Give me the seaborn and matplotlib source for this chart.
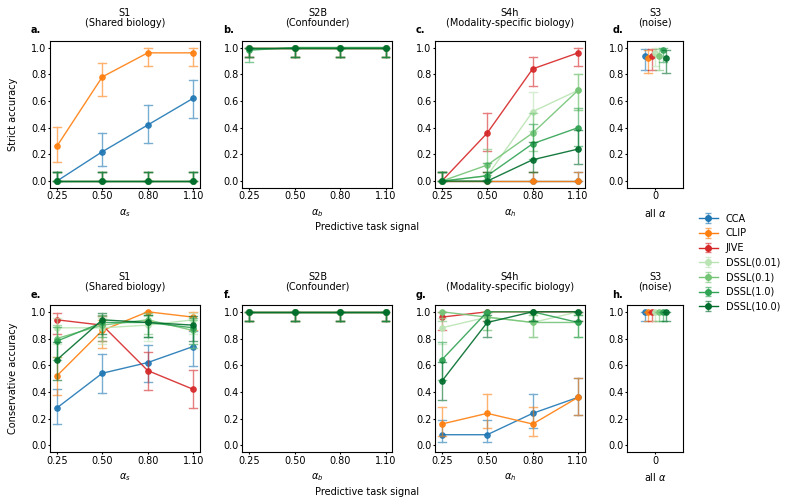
import numpy as np
import pandas as pd
import seaborn as sns
import matplotlib.pyplot as plt
from matplotlib.colors import to_rgb
from math import comb

N_RUNS = 50
METHODS = ['CCA', 'CLIP', 'JIVE', 'DSSL(0.01)', 'DSSL(0.1)', 'DSSL(1.0)', 'DSSL(10.0)']
COLORS = ['#1f77b4', '#ff7f0e', '#d62728', '#bae4b3', '#74c476', '#31a354', '#006d2c']
ALPHAS = ['0.25', '0.50', '0.80', '1.10']
NOISE_X = ['0']

# accuracy per method (rows follow METHODS), one column per alpha
s1_strict = [
    [0.00, 0.22, 0.42, 0.62],
    [0.26, 0.78, 0.96, 0.96],
    [0.00, 0.00, 0.00, 0.00],
    [0.00, 0.00, 0.00, 0.00],
    [0.00, 0.00, 0.00, 0.00],
    [0.00, 0.00, 0.00, 0.00],
    [0.00, 0.00, 0.00, 0.00],
]
s2b_strict = [
    [1.00, 1.00, 1.00, 1.00],
    [1.00, 1.00, 1.00, 1.00],
    [1.00, 1.00, 1.00, 1.00],
    [1.00, 1.00, 1.00, 1.00],
    [1.00, 1.00, 1.00, 1.00],
    [0.98, 1.00, 1.00, 1.00],
    [1.00, 1.00, 1.00, 1.00],
]
s4h_strict = [
    [0.00, 0.00, 0.00, 0.00],
    [0.00, 0.00, 0.00, 0.00],
    [0.00, 0.36, 0.84, 0.96],
    [0.00, 0.04, 0.52, 0.68],
    [0.00, 0.12, 0.36, 0.68],
    [0.00, 0.04, 0.28, 0.40],
    [0.00, 0.00, 0.16, 0.24],
]
s3_strict = [[0.94], [0.92], [0.94], [0.96], [0.94], [0.98], [0.92]]

s1_cons = [
    [0.28, 0.54, 0.62, 0.74],
    [0.52, 0.86, 1.00, 0.96],
    [0.94, 0.90, 0.56, 0.42],
    [0.88, 0.88, 0.90, 0.94],
    [0.80, 0.90, 0.94, 0.86],
    [0.78, 0.92, 0.92, 0.88],
    [0.64, 0.94, 0.92, 0.90],
]
s2b_cons = [[1.00, 1.00, 1.00, 1.00] for _ in METHODS]
s4h_cons = [
    [0.08, 0.08, 0.24, 0.36],
    [0.16, 0.24, 0.16, 0.36],
    [0.96, 1.00, 1.00, 1.00],
    [0.88, 0.96, 0.92, 1.00],
    [1.00, 0.96, 0.92, 0.92],
    [0.64, 1.00, 1.00, 0.92],
    [0.48, 0.92, 1.00, 1.00],
]
s3_cons = [[1.00] for _ in METHODS]


def binom_cdf(k, n, p):
    return sum(comb(n, i) * p**i * (1 - p)**(n - i) for i in range(k + 1))


def bisect(f, target):
    # f increasing on [0, 1]
    lo, hi = 0.0, 1.0
    for _ in range(50):
        mid = (lo + hi) / 2
        if f(mid) < target:
            lo = mid
        else:
            hi = mid
    return (lo + hi) / 2


def clopper_pearson(vals, level=0.95):
    vals = np.asarray(vals)
    n, k = len(vals), int(vals.sum())
    a = (1 - level) / 2
    lower = 0.0 if k == 0 else bisect(lambda p: 1 - binom_cdf(k - 1, n, p), a)
    upper = 1.0 if k == n else bisect(lambda p: 1 - binom_cdf(k, n, p), 1 - a)
    return lower, upper


def to_long(values, xcats):
    rows = []
    for m, accs in zip(METHODS, values):
        for x, acc in zip(xcats, accs):
            k = int(round(acc * N_RUNS))
            for hit in [1] * k + [0] * (N_RUNS - k):
                rows.append((m, x, hit))
    return pd.DataFrame(rows, columns=['method', 'alpha', 'correct'])


plt.rcParams['font.size'] = 7
plt.rcParams['font.family'] = ['DejaVu Sans']
for a in ['xtick', 'ytick']:
    plt.rcParams[a + '.major.size'] = 1.75
    plt.rcParams[a + '.major.pad'] = 0.8

fig = plt.figure(figsize=(7.91, 5.04), dpi=100)
gs = fig.add_gridspec(2, 4, width_ratios=[150, 150, 150, 56],
                      left=0.0632, right=0.864, top=0.919, bottom=0.103,
                      wspace=0.336, hspace=0.798)

rows = [
    ('Strict accuracy', [s1_strict, s2b_strict, s4h_strict, s3_strict], 'abcd'),
    ('Conservative accuracy', [s1_cons, s2b_cons, s4h_cons, s3_cons], 'efgh'),
]
titles = ['S1\n(Shared biology)', 'S2B\n(Confounder)',
          'S4h\n(Modality-specific biology)', 'S3\n(noise)']
xlabels = [r'$\alpha_s$', r'$\alpha_b$', r'$\alpha_h$', r'all $\alpha$']

for r, (ylab, panels, letters) in enumerate(rows):
    for c, values in enumerate(panels):
        ax = fig.add_subplot(gs[r, c])
        noise = c == 3
        xcats = NOISE_X if noise else ALPHAS
        df = to_long(values, xcats)
        sns.pointplot(data=df, x='alpha', y='correct', hue='method',
                      order=xcats, hue_order=METHODS, palette=COLORS,
                      errorbar=clopper_pearson, dodge=0.39 if noise else False,
                      capsize=0.14 if noise else 0.17,
                      err_kws={'alpha': 0.6, 'linewidth': 1},
                      linewidth=1, markersize=4, markeredgewidth=0.75,
                      alpha=0.9, legend=False, ax=ax)
        if noise:
            ax.set_xlim(-0.5, 0.5)
        else:
            ax.set_xlim(-0.15, 3.15)
        ax.set_ylim(-0.05, 1.05)
        ax.set_yticks(np.arange(0, 1.01, 0.2))
        ax.set_xlabel(xlabels[c])
        ax.set_ylabel(ylab if c == 0 else '', labelpad=9.2)
        ax.set_title(titles[c], pad=11, fontsize=7, linespacing=1.0)
        ax.annotate(letters[c] + '.', xy=(0, 1), xycoords='axes fraction',
                    xytext=(-10.8 if noise else -13.7, 5.3),
                    textcoords='offset points', fontweight='bold',
                    ha='left', va='baseline')

for y in [226.7, 491.7]:
    fig.text(366.75 / 791, 1 - y / 504, 'Predictive task signal',
             ha='center', va='center')

# legend proxies with errorbar glyphs
proxy_ax = fig.add_axes([0, 0, 0.001, 0.001])
proxy_ax.set_axis_off()
handles = []
for m, col in zip(METHODS, COLORS):
    h = proxy_ax.errorbar([np.nan], [np.nan], yerr=[np.nan], color=col,
                          ecolor=(*to_rgb(col), 0.6), marker='o', markersize=4,
                          linewidth=1, capsize=2.5, label=m)
    handles.append(h)
fig.legend(handles=handles, loc='center left', bbox_to_anchor=(0.872, 0.479),
           frameon=False, labelspacing=0.48)

plt.savefig('out.png', dpi=100)
